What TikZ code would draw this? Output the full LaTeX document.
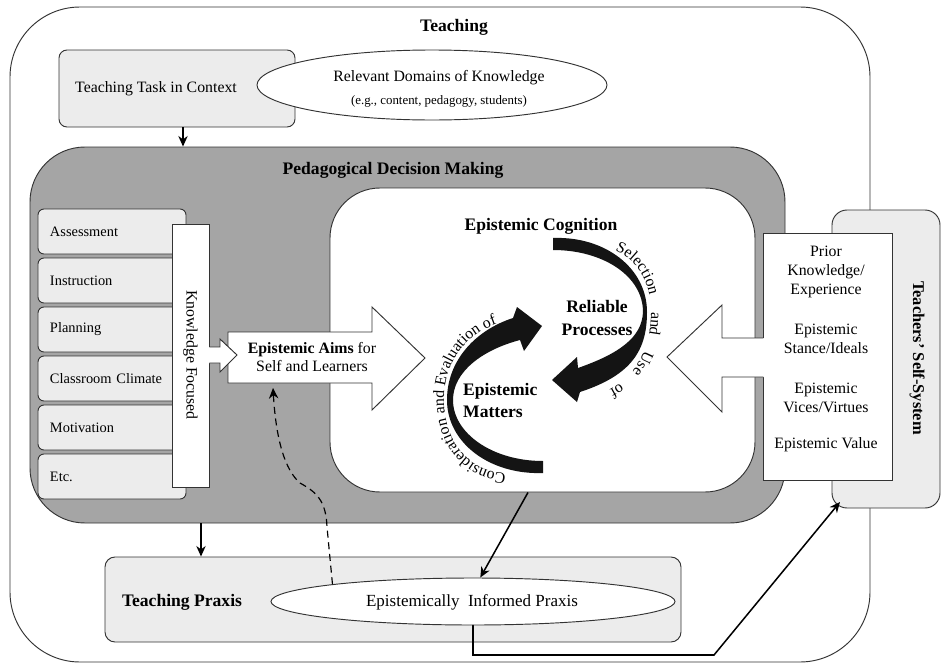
\documentclass[tikz,border=0pt]{standalone}
\usepackage{fontspec}
\setmainfont{Liberation Serif}
\usetikzlibrary{arrows.meta,shapes.geometric,decorations.text,calc}
\definecolor{lightfill}{HTML}{ECECEC}
\definecolor{pdmfill}{HTML}{A5A5A5}
\definecolor{linec}{HTML}{333333}
\newcommand\arcfont{\fontsize{13.5}{16}\selectfont}
\tikzset{
  frameline/.style={draw=linec, line width=0.8pt},
  sz/.style 2 args={minimum width=#1*0.03cm, minimum height=#2*0.03cm, inner sep=0pt},
  lightbox/.style={frameline, fill=lightfill},
  whitebox/.style={frameline, fill=white},
  reg/.style={font=\fontsize{13.5}{16.2}\selectfont},
  smalltxt/.style={font=\fontsize{12.3}{14}\selectfont},
  boldtxt/.style={font=\fontsize{15}{19.5}\selectfont\bfseries},
  txt/.style={inner sep=0pt},
  arr/.style={line width=1.3pt, -{Stealth[length=9pt,width=8pt]}},
  crescent/.style={fill=black!92},
}
\begin{document}
\begin{tikzpicture}[x=0.03cm, y=-0.03cm]
\fill[white] (0,0) rectangle (941,669);
\useasboundingbox (0,0) rectangle (941,669);

% outer frame: Teaching
\node[whitebox, sz={860}{655}, rounded corners=2.1cm] (teach) at (440,334.5) {};
\node[boldtxt, txt] (teachlbl) at (454,27) {Teaching};

% teaching task and domains of knowledge
\node[lightbox, sz={236}{77}, rounded corners=0.24cm] (task) at (177,88.5) {};
\node[reg, txt] (tasklbl) at (156,89) {Teaching Task in Context};
\node[whitebox, ellipse, sz={350}{70}] (dom) at (432,85) {};
\node[reg, txt] (domlbl) at (439,78) {Relevant Domains of Knowledge};
\node[font=\fontsize{11}{13}\selectfont, txt] (domsub) at (439,101) {(e.g., content, pedagogy, students)};

% pedagogical decision making
\node[frameline, fill=pdmfill, sz={755}{376}, rounded corners=1.65cm] (pdm) at (407.5,335) {};
\node[boldtxt, txt] (pdmlbl) at (393,170) {Pedagogical Decision Making};
\node[whitebox, sz={425}{304}, rounded corners=1.5cm] (inner) at (542.5,340) {};

% decision areas
\foreach \nm/\yy/\t in {assess/231.5/Assessment, instr/280.5/Instruction, plan/329.5/Planning,
  clim/378.5/Classroom Climate, motiv/427.5/Motivation, etcbox/476.5/Etc.}
  \node[lightbox, rounded corners=0.18cm, smalltxt, minimum height=45*0.03cm,
        text width=3.72cm, inner xsep=0.36cm, inner ysep=0pt, align=left] (\nm) at (112,\yy) {\t};

\node[whitebox, sz={37}{263}] (kf) at (190.5,355.5) {};
\node[reg, txt, rotate=-90] (kflbl) at (190.5,355) {Knowledge Focused};

% teachers' self-system
\node[lightbox, sz={108}{298}, rounded corners=0.45cm] (self) at (886,359) {};
\node[font=\fontsize{14}{17}\selectfont\bfseries, txt, rotate=-90] (selflbl) at (917,358) {Teachers' Self-System};
\node[whitebox, sz={129}{247}] (items) at (827.5,356.5) {};
\node[reg, txt, align=center] (prior) at (826,272) {Prior\\Knowledge/\\Experience};
\node[reg, txt, align=center] (stance) at (826,339) {Epistemic\\Stance/Ideals};
\node[reg, txt, align=center] (vices) at (826,397.5) {Epistemic\\Vices/Virtues};
\node[reg, txt] (value) at (826,445) {Epistemic Value};

% block arrow from the self-system into epistemic cognition
\fill[white] (765,338) -- (722,338) -- (722,305) -- (667,357) -- (722,412) -- (722,377) -- (765,377) -- cycle;
\draw[frameline] (763.4,338) -- (722,338) -- (722,305) -- (667,357) -- (722,412) -- (722,377) -- (763.4,377);

% epistemic aims block arrow
\draw[whitebox] (228,332) -- (372,332) -- (372,307) -- (425,358) -- (372,410) -- (372,383) -- (228,383) -- cycle;
\node[reg, txt, align=center] (aims) at (312,357) {\textbf{Epistemic Aims} for\\Self and Learners};
\fill[white] (208,347) -- (220,347) -- (220,339) -- (237,355) -- (220,372) -- (220,363) -- (208,363) -- cycle;
\draw[frameline] (209.4,347) -- (220,347) -- (220,339) -- (237,355) -- (220,372) -- (220,363) -- (209.4,363);

% epistemic cognition cycle
\node[boldtxt, txt] (cogn) at (541,226) {Epistemic Cognition};
\fill[crescent] (553,238) .. controls (605,236) and (647,268) .. (647,312)
  .. controls (647,350) and (632,375) .. (580,392) -- (577,402) -- (552,380) -- (577,357) -- (578,368)
  .. controls (618,354) and (642,338) .. (643,312)
  .. controls (643,276) and (603,250) .. (553,250) -- cycle;
\fill[crescent] (543,473) .. controls (490,475) and (447,443) .. (447,400)
  .. controls (447,360) and (476,330) .. (513,318) -- (517,307) -- (542,326) -- (524,351) -- (520,340)
  .. controls (482,350) and (453,372) .. (453,400)
  .. controls (453,433) and (492,461) .. (543,461) -- cycle;
\path[decorate, decoration={text along path, text={|\arcfont|Selection and Use of},
      text align={fit to path stretching spaces}}]
  (615,251) .. controls (638,260) and (651,284) .. (651,313) .. controls (651,347) and (638,375) .. (609,390);
\path[decorate, decoration={text along path, text={|\arcfont|Consideration and Evaluation of},
      text align={fit to path stretching spaces}}]
  (506,473) .. controls (468,472) and (444,441) .. (444,400) .. controls (444,360) and (468,334) .. (497,324);
\node[boldtxt, txt, align=center] (relproc) at (597,318) {Reliable\\Processes};
\node[boldtxt, txt, align=left, anchor=west] (epmat) at (463,400.5) {Epistemic\\Matters};

% teaching praxis
\node[lightbox, sz={576}{85}, rounded corners=0.3cm] (prx) at (393,599.5) {};
\node[boldtxt, txt] (prxlbl) at (182,602) {Teaching Praxis};
\node[whitebox, ellipse, sz={404}{47}] (ell) at (473,601.5) {};
\node[font=\fontsize{14.5}{17}\selectfont, txt] (elllbl) at (472,602) {Epistemically~ Informed Praxis};

% connectors
\coordinate (tx) at (183,0);
\coordinate (px) at (201,0);
\coordinate (ix) at (528,0);
\coordinate (aimsin) at (273,388);
\coordinate (bend) at (714,655);
\coordinate (selfin) at (840,502);
\draw[arr] (task.south -| tx) -- (pdm.north -| tx);
\draw[arr] (pdm.south -| px) -- (prx.north -| px);
\draw[arr] (inner.south -| ix) -- (ell.73);
\draw[arr, line width=1pt, dash pattern=on 6pt off 4pt] (ell.173) -- (327,527)
  .. controls (326,500) and (316,492) .. (300,483) .. controls (285,470) and (276,440) .. (aimsin);
\draw[arr, line cap=round] (ell.south) |- (bend) -- (selfin);
\end{tikzpicture}
\end{document}
